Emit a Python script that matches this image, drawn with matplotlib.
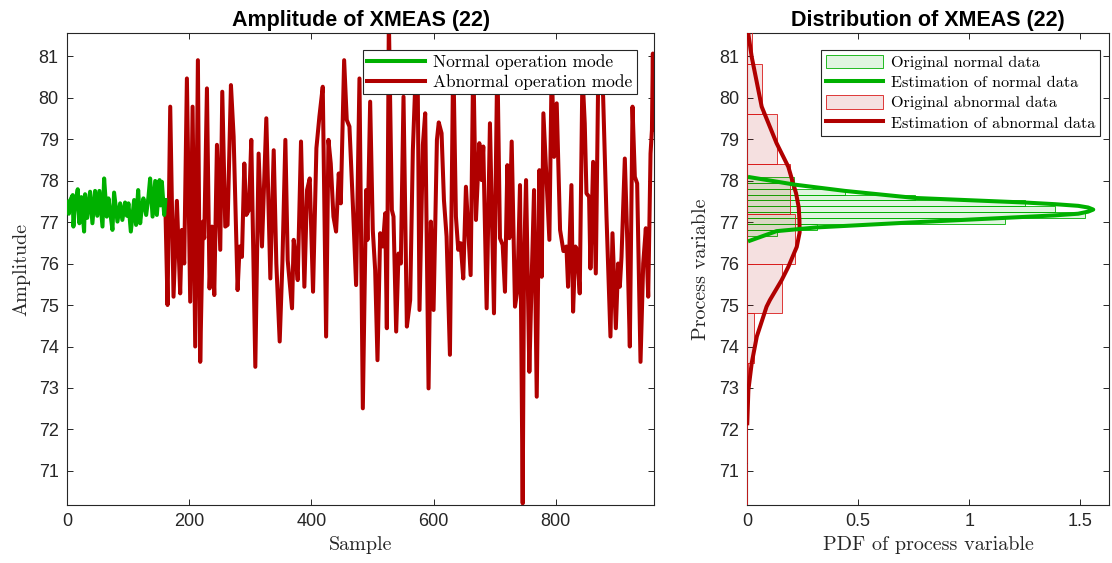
import numpy as np
import matplotlib
matplotlib.use('Agg')
import matplotlib.pyplot as plt

# normal operation samples
normal_x = [0, 3.0, 6.0, 9.3, 10.4, 13.5, 17.5, 20.2, 23.5, 27.9, 29.5, 33.0, 37.7, 41.5, 45.9,
            49.5, 53.0, 58.0, 60.7, 65.0, 67.8, 71.0, 74.3, 77.0, 82.5, 86.9, 90.5, 95.0, 98.0,
            100.5, 104.4, 109.8, 113.0, 116.4, 119.7, 122.5, 125.0, 129.5, 133.3, 136.0, 140.0,
            144.3, 147.0, 151.4, 153.0, 155.2, 159.0, 161.0]
normal_y = [77.49, 77.20, 77.55, 77.65, 76.89, 77.45, 77.79, 76.97, 77.60, 76.77, 77.67, 77.10,
            77.73, 76.97, 77.75, 77.15, 77.75, 76.89, 78.05, 77.13, 77.57, 77.20, 76.81, 77.71,
            77.01, 77.45, 77.05, 77.47, 77.15, 77.45, 76.77, 77.53, 76.93, 77.77, 76.97, 77.35,
            77.57, 77.17, 77.61, 78.05, 77.13, 77.99, 77.17, 78.01, 77.40, 77.97, 77.17, 77.53]

# abnormal operation samples (peaks and valleys)
abnormal_x = [160.7, 164.5, 168.9, 174.3, 179.8, 185.2, 188.0, 191.8, 196.2, 201.6, 205.5, 209.8,
              214.2, 218.0, 222.4, 224.6, 229.0, 233.3, 237.2, 241.0, 245.4, 250.8, 254.1, 259.0,
              262.8, 268.3, 272.7, 279.2, 282.5, 286.3, 290.2, 293.4, 297.8, 301.6, 308.2, 313.6,
              319.1, 326.2, 332.8, 338.3, 342.6, 348.1, 352.5, 357.4, 361.2, 368.3, 371.0, 375.4,
              377.6, 383.0, 388.5, 392.9, 397.3, 402.7, 408.2, 413.1, 418.6, 424.1, 427.9, 431.7,
              436.1, 440.4, 444.8, 448.1, 453.6, 457.9, 462.3, 467.8, 473.2, 478.7, 484.2, 489.6,
              491.8, 496.2, 500.5, 504.4, 508.2, 512.6, 516.9, 520.8, 523.5, 526.8, 531.7, 534.4,
              538.8, 542.6, 546.4, 550.8, 556.3, 561.7, 566.1, 569.9, 573.8, 577.0, 582.5, 586.3,
              591.8, 595.6, 600.0, 605.5, 608.5, 613.1, 617.0, 621.3, 626.8, 632.2, 636.6, 640.4,
              644.3, 648.6, 653.0, 656.8, 660.7, 665.0, 669.4, 674.9, 678.7, 681.4, 686.9, 692.3,
              698.9, 704.4, 708.7, 713.1, 716.9, 720.8, 724.0, 727.9, 733.3, 737.2, 741.5, 745.9,
              748.1, 751.4, 756.8, 760.7, 764.5, 768.9, 773.2, 777.0, 779.8, 784.2, 789.6, 793.4,
              797.3, 801.6, 807.1, 812.6, 817.5, 820.2, 825.7, 828.4, 832.2, 835.0, 839.3, 843.7,
              847.5, 850.3, 854.6, 856.8, 861.2, 865.6, 869.4, 873.2, 877.6, 883.1, 889.6, 892.9,
              898.4, 902.2, 904.9, 907.7, 913.1, 917.0, 921.3, 925.7, 929.5, 933.3, 938.8, 943.2,
              947.5, 951.4, 955.2, 957.5, 959.0, 960.0]
abnormal_y = [77.53, 75.00, 79.78, 75.20, 77.51, 75.28, 76.81, 76.00, 80.46, 75.08, 79.78, 74.00,
              80.90, 73.63, 77.01, 76.61, 80.22, 75.40, 76.89, 75.24, 78.86, 76.33, 80.14, 76.89,
              76.93, 80.30, 79.06, 75.36, 76.41, 76.16, 78.41, 77.17, 77.29, 78.98, 73.51, 78.65,
              76.41, 79.50, 75.64, 78.73, 76.00, 74.12, 76.00, 78.98, 76.08, 74.92, 76.57, 76.00,
              75.60, 78.94, 75.44, 77.77, 78.05, 75.32, 78.78, 79.54, 80.26, 74.24, 78.98, 78.41,
              77.13, 76.77, 78.17, 77.45, 80.90, 79.46, 79.30, 77.45, 75.48, 80.46, 72.51, 77.77,
              76.57, 79.90, 76.81, 75.84, 73.67, 76.73, 76.41, 77.21, 74.44, 81.90, 77.29, 77.13,
              74.36, 76.24, 76.00, 80.02, 74.48, 75.12, 78.73, 80.26, 80.90, 74.88, 78.86, 79.62,
              72.99, 77.01, 74.88, 78.98, 79.40, 79.14, 77.53, 76.65, 73.80, 81.06, 77.13, 76.33,
              76.49, 75.64, 77.85, 76.81, 75.72, 81.00, 77.05, 78.90, 78.01, 78.82, 74.92, 79.38,
              74.80, 81.00, 76.61, 76.45, 75.32, 78.37, 76.61, 78.94, 74.96, 75.36, 77.89, 70.22,
              76.00, 78.01, 73.39, 75.68, 77.77, 72.79, 78.25, 75.68, 79.62, 78.25, 76.57, 80.82,
              78.57, 79.86, 76.81, 76.30, 76.41, 75.44, 77.89, 74.84, 76.41, 76.33, 75.28, 80.58,
              79.38, 77.69, 77.61, 75.88, 78.45, 75.76, 80.34, 80.82, 80.02, 77.13, 74.24, 76.73,
              74.44, 76.00, 75.44, 76.16, 78.53, 76.61, 74.00, 79.78, 78.09, 77.93, 73.63, 76.00,
              76.85, 75.20, 78.65, 79.22, 81.06, 79.22]

# histogram of normal data (pdf normalised)
normal_edges = [76.67, 76.81, 76.95, 77.10, 77.24, 77.38, 77.52, 77.66, 77.80, 77.94, 78.08]
normal_pdf = [0.132, 0.312, 1.161, 1.521, 1.386, 1.251, 0.755, 0.44, 0.20, 0.21]

# histogram of abnormal data
abnormal_edges = [70.0, 71.2, 72.4, 73.6, 74.8, 76.0, 77.2, 78.4, 79.6, 80.8, 82.0]
abnormal_pdf = [0.001, 0.0, 0.005, 0.032, 0.156, 0.216, 0.192, 0.135, 0.065, 0.02]

# estimated densities
normal_est_pdf = [0.012, 0.132, 0.313, 0.74, 1.161, 1.386, 1.491, 1.536, 1.559, 1.536, 1.491,
                  1.386, 1.251, 0.755, 0.44, 0.215, 0.012]
normal_est_val = [76.55, 76.78, 76.87, 76.99, 77.10, 77.16, 77.20, 77.25, 77.30, 77.35, 77.39,
                  77.43, 77.47, 77.58, 77.75, 77.90, 78.08]
abnormal_est_pdf = [0.0, 0.005, 0.020, 0.043, 0.087, 0.102, 0.155, 0.185, 0.223, 0.236, 0.235,
                    0.232, 0.22, 0.185, 0.132, 0.065, 0.02, 0.003]
abnormal_est_val = [72.15, 72.95, 73.6, 74.24, 74.96, 75.12, 75.6, 75.92, 76.40, 76.75, 77.05,
                    77.35, 77.69, 78.33, 78.9, 79.78, 80.98, 81.6]

green = (0.0, 0.69, 0.0)
red = (0.69, 0.0, 0.0)
dark = '#262626'
tick_font = 'Liberation Sans'
tex_font = 'cmr10'

fig = plt.figure(figsize=(11.12, 5.63), dpi=100)
ax1 = fig.add_axes([0.0603, 0.103, 0.5279, 0.838])
ax2 = fig.add_axes([0.6720, 0.103, 0.3253, 0.838])

# left: time series #
ax1.plot(abnormal_x, abnormal_y, color=red, lw=2.9, label='Abnormal operation mode', zorder=2)
ax1.plot(normal_x, normal_y, color=green, lw=2.9, label='Normal operation mode', zorder=3)
ax1.set_xlim(0, 961)
ax1.set_ylim(70.18, 81.55)
ax1.set_xticks([0, 200, 400, 600, 800])
ax1.set_yticks(range(71, 82))
ax1.set_title('Amplitude of XMEAS (22)', fontsize=15.5, fontweight='bold',
              family=tick_font, pad=5)
ax1.set_xlabel('Sample', fontsize=14.5, family=tex_font, color=dark, labelpad=4)
ax1.set_ylabel('Amplitude', fontsize=14.5, family=tex_font, color=dark, labelpad=6)
h, l = ax1.get_legend_handles_labels()
leg1 = ax1.legend(h[::-1], l[::-1], loc='upper right', bbox_to_anchor=(0.971, 0.965),
                  borderaxespad=0, fancybox=False, edgecolor=dark, framealpha=1,
                  prop={'family': tex_font, 'size': 12.5}, handlelength=3.3,
                  labelspacing=0.25, borderpad=0.25, handletextpad=0.5)
leg1.get_frame().set_linewidth(0.8)

# right: distributions #
ax2.barh(normal_edges[:-1], normal_pdf, height=np.diff(normal_edges), align='edge',
         facecolor=green + (0.12,), edgecolor=green, lw=0.6,
         label='Original normal data', zorder=2)
ax2.barh(abnormal_edges[:-1], abnormal_pdf, height=np.diff(abnormal_edges), align='edge',
         facecolor=red + (0.12,), edgecolor=(0.85, 0.1, 0.1), lw=0.6,
         label='Original abnormal data', zorder=3)
ax2.plot(abnormal_est_pdf, abnormal_est_val, color=red, lw=2.9,
         label='Estimation of abnormal data', zorder=4)
ax2.plot(normal_est_pdf, normal_est_val, color=green, lw=2.9,
         label='Estimation of normal data', zorder=5)
ax2.set_xlim(0, 1.63)
ax2.set_ylim(70.18, 81.55)
ax2.set_xticks([0, 0.5, 1, 1.5])
ax2.set_xticklabels(['0', '0.5', '1', '1.5'])
ax2.set_yticks(range(71, 82))
ax2.set_title('Distribution of XMEAS (22)', fontsize=15.5, fontweight='bold',
              family=tick_font, pad=5)
ax2.set_xlabel('PDF of process variable', fontsize=14.5, family=tex_font, color=dark, labelpad=4)
ax2.set_ylabel('Process variable', fontsize=14.5, family=tex_font, color=dark, labelpad=6)
h, l = ax2.get_legend_handles_labels()
order = [l.index(s) for s in ['Original normal data', 'Estimation of normal data',
                              'Original abnormal data', 'Estimation of abnormal data']]
leg2 = ax2.legend([h[i] for i in order], [l[i] for i in order], loc='upper right',
                  bbox_to_anchor=(0.975, 0.965), borderaxespad=0, fancybox=False,
                  edgecolor=dark, framealpha=1, prop={'family': tex_font, 'size': 11.7},
                  handlelength=3.5, handleheight=0.9, labelspacing=0.3, borderpad=0.3,
                  handletextpad=0.5)
leg2.get_frame().set_linewidth(0.8)

for ax in [ax1, ax2]:
    ax.tick_params(direction='in', length=4.5, width=0.7, top=True, right=True,
                   colors=dark, labelsize=13, pad=6)
    for lab in ax.get_xticklabels() + ax.get_yticklabels():
        lab.set_family(tick_font)
    for sp in ax.spines.values():
        sp.set_color(dark)
        sp.set_linewidth(0.8)

plt.savefig('out.png', dpi=100)
